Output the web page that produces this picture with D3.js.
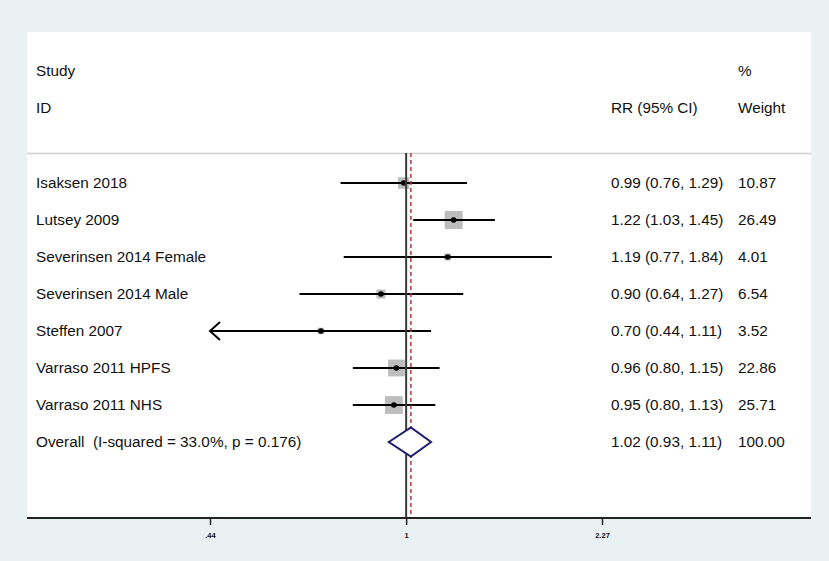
<!DOCTYPE html>
<html>
<head>
<meta charset="utf-8">
<script src="https://cdn.jsdelivr.net/npm/d3@7"></script>
<style>
html,body{margin:0;padding:0;background:#e9f1f3;}
svg{display:block;}
text{font-family:"Liberation Sans",Arial,sans-serif;fill:#111;}
</style>
</head>
<body>
<svg id="chart" width="829" height="561"></svg>
<script>
const studies = ["Isaksen 2018","Lutsey 2009","Severinsen 2014 Female","Severinsen 2014 Male","Steffen 2007","Varraso 2011 HPFS","Varraso 2011 NHS"];
const rr      = [0.99, 1.22, 1.19, 0.90, 0.70, 0.96, 0.95];
const lower   = [0.76, 1.03, 0.77, 0.64, 0.44, 0.80, 0.80];
const upper   = [1.29, 1.45, 1.84, 1.27, 1.11, 1.15, 1.13];
const weights = [10.87, 26.49, 4.01, 6.54, 3.52, 22.86, 25.71];
const overallLabel = "Overall  (I-squared = 33.0%, p = 0.176)";
const overallRR = 1.02, overallLower = 0.93, overallUpper = 1.11, overallWeight = 100.00;
const tickValues = [0.44, 1, 2.27];
const tickLabels = [".44", "1", "2.27"];

const svg = d3.select("#chart");
// white plot area
svg.append("rect").attr("x",27).attr("y",32).attr("width",784).attr("height",487).attr("fill","#fff");

const x = d3.scaleLog().domain([0.44, 2.27]).range([210, 602]);
const rowKeys = studies.concat(["Overall"]);
const y = d3.scalePoint().domain(rowKeys).range([183, 442]);

const fs = 15.3;
const colStudy = 36, colRR = 611, colW = 738;

// headers
svg.append("text").attr("x",colStudy).attr("y",71+5).attr("font-size",fs).text("Study");
svg.append("text").attr("x",colStudy).attr("y",108+5).attr("font-size",fs).text("ID");
svg.append("text").attr("x",colW).attr("y",71+5).attr("font-size",fs).text("%");
svg.append("text").attr("x",colRR).attr("y",108+5).attr("font-size",fs).text("RR (95% CI)");
svg.append("text").attr("x",colW).attr("y",108+5).attr("font-size",fs).text("Weight");

// top gray line
svg.append("line").attr("x1",27).attr("x2",811).attr("y1",153.5).attr("y2",153.5)
  .attr("stroke","#cfcfcf").attr("stroke-width",1.5);

const data = studies.map((s,i)=>({s, rr:rr[i], lo:lower[i], hi:upper[i], w:weights[i]}));
const minX = x.domain()[0];

// boxes
const g = svg.append("g");
g.selectAll("rect.box").data(data).join("rect").attr("class","box")
  .attr("x",d=>x(d.rr)-3.5*Math.sqrt(d.w)/2)
  .attr("y",d=>y(d.s)-3.5*Math.sqrt(d.w)/2)
  .attr("width",d=>3.5*Math.sqrt(d.w))
  .attr("height",d=>3.5*Math.sqrt(d.w))
  .attr("fill","#bdbdbd");

// reference line at 1
svg.append("line").attr("x1",x(1)).attr("x2",x(1)).attr("y1",153).attr("y2",518)
  .attr("stroke","#3a3a3a").attr("stroke-width",2);
// overall dashed line
svg.append("line").attr("x1",x(overallRR)).attr("x2",x(overallRR)).attr("y1",153).attr("y2",518)
  .attr("stroke","#a83a4a").attr("stroke-width",1.5).attr("stroke-dasharray","4,3");

// CI lines
g.selectAll("line.ci").data(data).join("line").attr("class","ci")
  .attr("x1",d=>x(Math.max(d.lo,minX))).attr("x2",d=>x(d.hi))
  .attr("y1",d=>y(d.s)).attr("y2",d=>y(d.s))
  .attr("stroke","#000").attr("stroke-width",2);
// arrows where CI reaches axis minimum
data.filter(d=>d.lo<=minX).forEach(d=>{
  const x0 = x(minX), yy = y(d.s);
  svg.append("path").attr("d",`M${x0+10},${yy-9} L${x0},${yy} L${x0+10},${yy+9}`)
    .attr("fill","none").attr("stroke","#000").attr("stroke-width",2);
});
// dots
g.selectAll("circle.pt").data(data).join("circle").attr("class","pt")
  .attr("cx",d=>x(d.rr)).attr("cy",d=>y(d.s)).attr("r",2.8).attr("fill","#000");

// overall diamond
const yo = y("Overall");
svg.append("path")
  .attr("d",`M${x(overallLower)},${yo} L${x(overallRR)},${yo-14.5} L${x(overallUpper)},${yo} L${x(overallRR)},${yo+14.5} Z`)
  .attr("fill","#fff").attr("stroke","#1c1c6e").attr("stroke-width",2);

// text columns
const f2 = d3.format(".2f");
svg.selectAll("text.lab").data(data).join("text").attr("class","lab")
  .attr("x",colStudy).attr("y",d=>y(d.s)+5).attr("font-size",fs).text(d=>d.s);
svg.selectAll("text.rr").data(data).join("text").attr("class","rr")
  .attr("x",colRR).attr("y",d=>y(d.s)+5).attr("font-size",fs)
  .text(d=>`${f2(d.rr)} (${f2(d.lo)}, ${f2(d.hi)})`);
svg.selectAll("text.wt").data(data).join("text").attr("class","wt")
  .attr("x",colW).attr("y",d=>y(d.s)+5).attr("font-size",fs).text(d=>f2(d.w));
svg.append("text").attr("x",colStudy).attr("y",yo+5).attr("font-size",fs)
  .attr("xml:space","preserve").style("white-space","pre").text(overallLabel);
svg.append("text").attr("x",colRR).attr("y",yo+5).attr("font-size",fs)
  .text(`${f2(overallRR)} (${f2(overallLower)}, ${f2(overallUpper)})`);
svg.append("text").attr("x",colW).attr("y",yo+5).attr("font-size",fs).text(f2(overallWeight));

// x axis
const axisG = svg.append("g").attr("transform","translate(0,518)");
axisG.append("line").attr("x1",27).attr("x2",811).attr("y1",0).attr("y2",0)
  .attr("stroke","#222").attr("stroke-width",2);
const ax = d3.axisBottom(x).tickValues(tickValues).tickFormat((d,i)=>tickLabels[i]).tickSize(7).tickSizeOuter(0);
const axG = axisG.append("g").call(ax);
axG.select(".domain").remove();
axG.selectAll(".tick line").attr("stroke","#222").attr("stroke-width",1.5);
axG.selectAll(".tick text").attr("font-size",7.5).attr("font-weight","bold")
  .attr("font-family","Liberation Sans, Arial, sans-serif").attr("fill","#111").attr("dy","0").attr("y",20);
</script>
</body>
</html>
